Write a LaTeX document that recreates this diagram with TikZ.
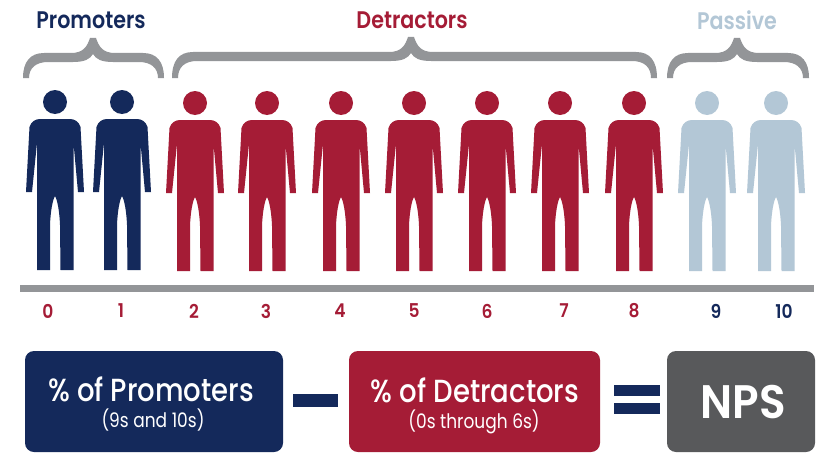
\documentclass[tikz,border=0pt]{standalone}
\usepackage{fontspec}
\setmainfont{Poppins}
\definecolor{navy}{HTML}{14295B}
\definecolor{crim}{HTML}{A51C36}
\definecolor{pale}{HTML}{B3C7D6}
\definecolor{brc}{HTML}{939598}
\definecolor{slate}{HTML}{58595B}
\newcommand{\curlybar}[4]{% left, mid, right, bar top y
  \fill[brc] (#1-3,-78) .. controls (#1-3,-#4-9) and (#1+4,-#4) .. (#1+18,-#4)
    -- (#2-22,-#4) .. controls (#2-10,-#4) and (#2-6,-#4+6) .. (#2-3,-#4+15)
    -- (#2+3,-#4+15) .. controls (#2+6,-#4+6) and (#2+10,-#4) .. (#2+22,-#4)
    -- (#3-18,-#4) .. controls (#3-4,-#4) and (#3+3,-#4-9) .. (#3+3,-78)
    -- (#3-3,-78) .. controls (#3-3,-#4-15) and (#3-10,-#4-9) .. (#3-22,-#4-9)
    -- (#2+20,-#4-9) .. controls (#2+8,-#4-9) and (#2+3,-#4-6) .. (#2,-#4-1)
    .. controls (#2-3,-#4-6) and (#2-8,-#4-9) .. (#2-20,-#4-9)
    -- (#1+22,-#4-9) .. controls (#1+10,-#4-9) and (#1+3,-#4-15) .. (#1+3,-78) -- cycle;
}
\tikzset{
  person/.pic={
    \fill (0,-102) circle (12);
    \fill (-15,-119) .. controls (-20,-119) and (-24,-122) .. (-25.5,-127)
      -- (-29,-192) -- (-23,-192) -- (-18,-143) -- (-18,-270) -- (-5,-270)
      -- (-5,-225) .. controls (-4.5,-212) and (-2.5,-200) .. (0,-196)
      .. controls (2.5,-200) and (4.5,-212) .. (5,-225) -- (5.5,-270) -- (18.5,-270)
      -- (18.5,-143) -- (23,-192) -- (29,-192) -- (25.5,-127)
      .. controls (24,-122) and (20,-119) .. (15,-119) -- cycle;
  },
  grouplabel/.style={font=\fontsize{24}{26}\selectfont\fontspec{Poppins SemiBold},xscale=.86,inner sep=0,anchor=center},
  num/.style={font=\fontsize{19}{21}\selectfont\fontspec{Poppins SemiBold},xscale=.9,inner sep=0,anchor=center},
  box/.style={rounded corners=9pt},
  main/.style={text=white,font=\fontsize{32}{35}\selectfont\fontspec{Poppins Medium},xscale=.86,inner sep=0,anchor=center},
  sub/.style={text=white,font=\fontsize{20}{22}\selectfont,xscale=.85,inner sep=0,anchor=center},
}
\begin{document}
\begin{tikzpicture}[x=1pt,y=1pt]
\useasboundingbox (0,-452) rectangle (818,0);
\fill[white] (0,-452) rectangle (818,0);
% group labels
\node[grouplabel,text=navy] (lp) at (91,-20) {Promoters};
\node[grouplabel,text=crim] (ld) at (412,-20) {Detractors};
\node[grouplabel,text=pale] (lq) at (737,-20) {Passive};
% braces
\curlybar{26}{93}{161}{53}
\curlybar{175}{411}{654}{52}
\curlybar{670}{737}{806}{53}
% people
\foreach \px in {55,122}
  \path pic[fill=navy] at (\px,0) {person};
\foreach \px in {195,267,341,414,487,560,634}
  \path pic[fill=crim] at (\px,-1) {person};
\foreach \px in {707,776}
  \path pic[fill=pale] at (\px,-1) {person};
% axis
\fill[brc] (20,-285) rectangle (814,-292);
% numbers
\node[num,text=crim] (n0) at (48,-311) {0};
\node[num,text=crim] (n1) at (121,-311) {1};
\node[num,text=crim] (n2) at (194,-311) {2};
\node[num,text=crim] (n3) at (266,-311) {3};
\node[num,text=crim] (n4) at (340,-311) {4};
\node[num,text=crim] (n5) at (414,-311) {5};
\node[num,text=crim] (n6) at (487,-311) {6};
\node[num,text=crim] (n7) at (564,-311) {7};
\node[num,text=crim] (n8) at (634,-311) {8};
\node[num,text=navy] (n9) at (716,-311) {9};
\node[num,text=navy] (n10) at (784,-311) {10};
% boxes
\fill[navy,box] (25,-351) rectangle (283,-452);
\fill[crim,box] (349,-351) rectangle (600,-452);
\fill[slate,box] (667,-351) rectangle (815,-452);
\node[main] (t1) at (151,-389) {\% of Promoters};
\node[sub] (s1) at (153,-420) {(9s and 10s)};
\node[main] (t2) at (475,-390) {\% of Detractors};
\node[sub] (s2) at (474,-422) {(0s through 6s)};
\node[main,font=\fontsize{47}{50}\selectfont\fontspec{Poppins SemiBold},xscale=1.08] (t3) at (743,-402) {NPS};
% operators
\fill[navy] (293,-394) rectangle (338,-407);
\fill[navy] (614,-385) rectangle (660,-396);
\fill[navy] (614,-403) rectangle (660,-414);
\end{tikzpicture}
\end{document}
